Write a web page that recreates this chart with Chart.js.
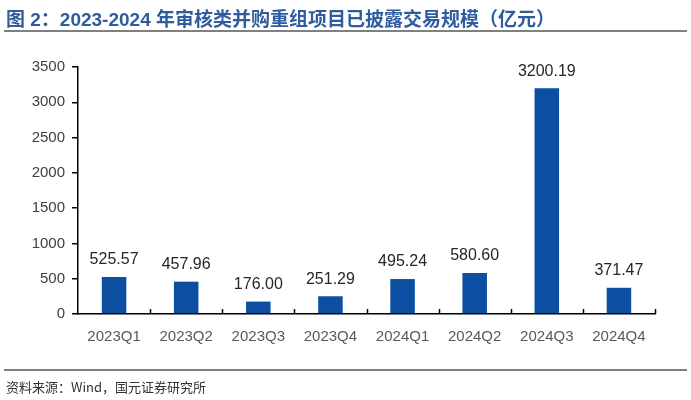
<!DOCTYPE html>
<html>
<head>
<meta charset="utf-8">
<script src="https://cdn.jsdelivr.net/npm/chart.js@4"></script>
<style>
  body { margin: 0; width: 691px; height: 400px; background: #fff; position: relative; overflow: hidden; }
  #title { position: absolute; left: 6px; top: 4px; font: bold 19px "Liberation Sans", "Noto Sans CJK SC", sans-serif; color: #2E5C9F; white-space: nowrap; }
  #topline { position: absolute; left: 4px; right: 4px; top: 30px; height: 2px; background: #808080; }
  #botline { position: absolute; left: 4px; right: 4px; top: 369px; height: 2px; background: #808080; }
  #source { position: absolute; left: 6px; top: 377px; font: 13px "Noto Sans CJK SC", sans-serif; color: #333; }
  #wrap { position: absolute; left: 0; top: 0; width: 691px; height: 400px; }
</style>
</head>
<body>
<div id="wrap"><canvas id="chart" width="691" height="400"></canvas></div>
<div id="title">图 2：2023-2024 年审核类并购重组项目已披露交易规模（亿元）</div>
<div id="topline"></div>
<div id="botline"></div>
<div id="source">资料来源：Wind，国元证券研究所</div>
<script>
const categories = ['2023Q1', '2023Q2', '2023Q3', '2023Q4', '2024Q1', '2024Q2', '2024Q3', '2024Q4'];
const values = [525.57, 457.96, 176.00, 251.29, 495.24, 580.60, 3200.19, 371.47];
const yTicks = [0, 500, 1000, 1500, 2000, 2500, 3000, 3500];

// 柱顶数值标签
const valueLabels = {
    id: 'valueLabels',
    afterDatasetsDraw(chart) {
        const ctx = chart.ctx;
        const meta = chart.getDatasetMeta(0);
        ctx.save();
        ctx.font = '16px "Liberation Sans", Arial, sans-serif';
        ctx.fillStyle = '#262626';
        ctx.textAlign = 'center';
        ctx.textBaseline = 'middle';
        meta.data.forEach((bar, i) => {
            ctx.fillText(values[i].toFixed(2), bar.x, bar.y - 17);
        });
        ctx.restore();
    }
};

// x轴上向内的分隔刻度
const innerTicks = {
    id: 'innerTicks',
    afterDraw(chart) {
        const x = chart.scales.x;
        const ctx = chart.ctx;
        const y0 = chart.chartArea.bottom;
        ctx.save();
        ctx.strokeStyle = '#000';
        ctx.lineWidth = 1.5;
        ctx.beginPath();
        for (let i = 1; i <= categories.length; i++) {
            const px = Math.round(x.getPixelForValue(i - 0.5)) + 0.5;
            ctx.moveTo(px, y0);
            ctx.lineTo(px, y0 - 5);
        }
        ctx.stroke();
        ctx.restore();
    }
};

new Chart(document.getElementById('chart'), {
    type: 'bar',
    data: {
        labels: categories,
        datasets: [{
            data: values,
            backgroundColor: '#0B4EA2',
            categoryPercentage: 1,
            barPercentage: 0.34
        }]
    },
    options: {
        responsive: false,
        animation: false,
        layout: { padding: { left: 0, right: 36, top: 67, bottom: 46 } },
        plugins: { legend: { display: false }, tooltip: { enabled: false } },
        scales: {
            x: {
                grid: { display: false },
                border: { color: '#000', width: 1.5 },
                ticks: {
                    color: '#595959',
                    font: { size: 15, family: '"Liberation Sans", Arial, sans-serif' },
                    padding: 6,
                    maxRotation: 0
                },
                afterFit(s) { s.height = 40; }
            },
            y: {
                min: 0,
                max: 3500,
                afterBuildTicks(s) { s.ticks = yTicks.map(v => ({ value: v })); },
                grid: { drawOnChartArea: false, tickLength: 6, color: '#000', lineWidth: 1.5 },
                border: { color: '#000', width: 1.5 },
                ticks: {
                    color: '#404040',
                    font: { size: 15, family: '"Liberation Sans", Arial, sans-serif' },
                    padding: 7,
                    callback: v => String(v)
                },
                afterFit(s) { s.width = 78; }
            }
        }
    },
    plugins: [valueLabels, innerTicks]
});
</script>
</body>
</html>
